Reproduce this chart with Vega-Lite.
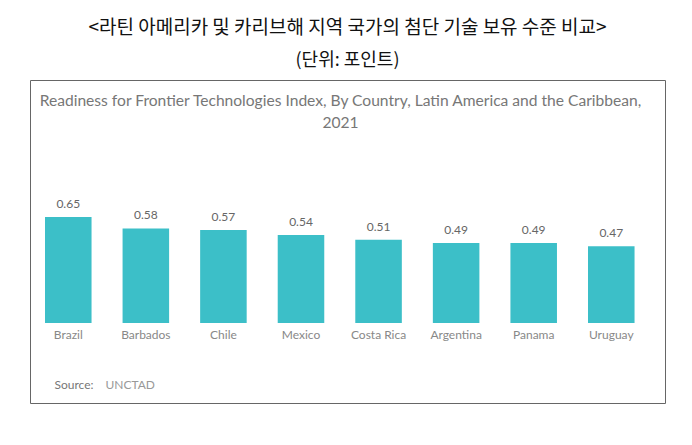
{
  "$schema": "https://vega.github.io/schema/vega-lite/v6.json",
  "padding": {"left": 29, "top": 18, "right": 28, "bottom": 40},
  "background": "white",
  "title": {
    "text": "<라틴 아메리카 및 카리브해 지역 국가의 첨단 기술 보유 수준 비교>",
    "subtitle": "(단위: 포인트)",
    "font": "Noto Sans CJK KR",
    "fontSize": 19,
    "fontWeight": "normal",
    "color": "#111111",
    "subtitleFont": "Noto Sans CJK KR",
    "subtitleFontSize": 18,
    "subtitleFontWeight": "normal",
    "subtitleColor": "#111111",
    "subtitlePadding": 14,
    "offset": 10,
    "anchor": "middle"
  },
  "config": {"view": {"stroke": "#666666"}, "concat": {"spacing": 0}},
  "vconcat": [
    {
      "width": 635,
      "height": 323,
      "title": {
        "text": ["Readiness for Frontier Technologies Index, By Country, Latin America and the Caribbean,", "2021"],
        "font": "Lato",
        "fontSize": 15.6,
        "fontWeight": "normal",
        "color": "#777777",
        "offset": -52,
        "dx": -7,
        "lineHeight": 22,
        "anchor": "middle"
      },
      "data": {
        "values": [
          {"country": "Brazil", "value": 0.65},
          {"country": "Barbados", "value": 0.58},
          {"country": "Chile", "value": 0.57},
          {"country": "Mexico", "value": 0.54},
          {"country": "Costa Rica", "value": 0.51},
          {"country": "Argentina", "value": 0.49},
          {"country": "Panama", "value": 0.49},
          {"country": "Uruguay", "value": 0.47}
        ]
      },
      "encoding": {
        "x": {
          "field": "country",
          "type": "nominal",
          "sort": null,
          "scale": {"paddingInner": 0.4, "paddingOuter": 0.293, "align": 0.33},
          "axis": {
            "orient": "bottom",
            "offset": -80,
            "labelPadding": 6,
            "ticks": false,
            "domain": false,
            "labelAngle": 0,
            "labelFont": "Lato",
            "labelFontSize": 12,
            "labelColor": "#888888",
            "title": "Source:",
            "titleX": 24,
            "titleY": 61,
            "titleAlign": "left",
            "titleBaseline": "middle",
            "titleFont": "Lato",
            "titleFontSize": 12,
            "titleFontWeight": "normal",
            "titleColor": "#777777"
          }
        },
        "y": {
          "field": "value",
          "type": "quantitative",
          "scale": {"domain": [-0.4905, 1.49], "nice": false, "zero": false},
          "axis": {
            "labels": false,
            "ticks": false,
            "domain": false,
            "grid": false,
            "title": "UNCTAD",
            "titleAngle": 0,
            "titleX": 75,
            "titleY": 304,
            "titleAlign": "left",
            "titleBaseline": "middle",
            "titleFont": "Lato",
            "titleFontSize": 12,
            "titleFontWeight": "normal",
            "titleColor": "#999999"
          }
        }
      },
      "layer": [
        {
          "mark": {"type": "bar", "color": "#3cbfc8"},
          "encoding": {"y2": {"datum": 0}}
        },
        {
          "mark": {"type": "text", "baseline": "bottom", "dy": -6, "font": "Lato", "fontSize": 12, "color": "#666666"},
          "encoding": {"text": {"field": "value", "type": "quantitative", "format": ".2f"}}
        }
      ]
    }
  ]
}
